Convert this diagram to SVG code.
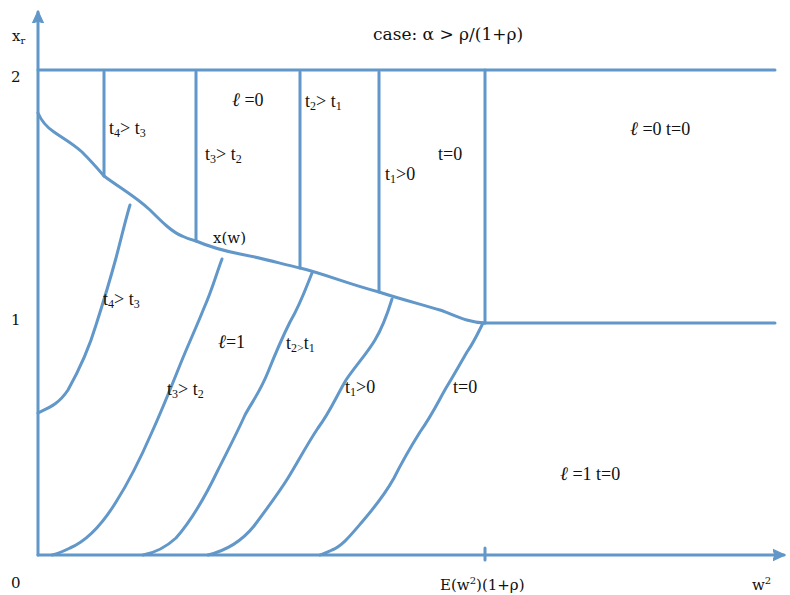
<svg xmlns="http://www.w3.org/2000/svg" width="790" height="595" viewBox="0 0 790 595">
<style>
.ln{fill:none;stroke:#6197c9;stroke-width:3;stroke-linecap:round;stroke-linejoin:round}
.cv{fill:none;stroke:#6197c9;stroke-width:3;stroke-linecap:round;stroke-linejoin:round}
text{font-family:"Liberation Serif","DejaVu Serif",serif;font-size:18px;fill:#111}
.sub{font-size:12px}
.big{font-family:"DejaVu Serif",serif;font-size:15px}
.case{font-size:17px}
.bsub{font-size:10px}
.ell{font-style:italic;font-size:19px}
</style>
<defs>
<marker id="arr" viewBox="0 0 12 12" refX="10" refY="6" markerWidth="4.5" markerHeight="4.5" orient="auto" markerUnits="strokeWidth">
<path d="M0,1 L11,6 L0,11 L2,6 Z" fill="#6197c9" stroke="#6197c9" stroke-width="1" stroke-linejoin="round"/>
</marker>
</defs>
<g id="axes">
<line class="ln" x1="38" y1="555" x2="38" y2="12" marker-end="url(#arr)"/>
<line class="ln" x1="38" y1="555" x2="784" y2="555" marker-end="url(#arr)"/>
<line class="ln" x1="485" y1="548" x2="485" y2="560"/>
</g>
<g id="region-lines">
<line class="ln" x1="38" y1="70" x2="775" y2="70"/>
<line class="ln" x1="485" y1="323" x2="775" y2="323"/>
<line class="ln" x1="104" y1="72" x2="104" y2="176"/>
<line class="ln" x1="196" y1="72" x2="196" y2="241"/>
<line class="ln" x1="300" y1="72" x2="300" y2="268"/>
<line class="ln" x1="379" y1="72" x2="379" y2="292"/>
<line class="ln" x1="485" y1="70" x2="485" y2="323"/>
</g>
<g id="boundary-xw">
<path class="cv" d="M38,113 C41,120 45,126 54,132 C64,139 72,143 82,152 C92,162 98,169 104,176 C120,188 135,196 150,210 C162,222 172,232 182,236 C188,239 192,240 196,241 C210,247 220,250 240,254 C262,258 282,264 300,268 C325,274 345,283 379,292 C400,299 420,304 440,310 C455,315 465,322 485,323"/>
</g>
<g id="curves">
<path id="curve-a" class="cv" d="M130,205 C126,218 122,235 116,258 C110,280 104,300 96,325 C88,352 78,372 68,390 C58,405 48,408 38,413"/>
<path id="curve-b" class="cv" d="M222,259 C216,275 212,290 204,308 C196,328 188,345 180,365 C170,390 162,410 152,432 C142,455 130,480 116,502 C100,528 84,542 70,548 C62,552 56,554 52,555"/>
<path id="curve-c" class="cv" d="M312,273 C306,288 300,305 290,322 C282,338 276,352 268,372 C260,392 252,402 245,415 C236,435 228,450 218,470 C206,495 192,520 176,538 C164,549 154,553 143,555"/>
<path id="curve-d" class="cv" d="M392,299 C388,312 384,325 375,340 C366,355 356,365 346,380 C336,397 330,412 318,428 C306,446 298,462 288,478 C278,494 266,510 254,526 C242,541 228,550 208,555"/>
<path id="curve-e" class="cv" d="M483,323 C478,333 474,342 467,352 C460,364 454,375 446,388 C438,402 432,415 420,432 C410,448 402,462 394,478 C384,496 374,508 362,522 C350,536 342,546 332,550 C326,553 322,554 320,555"/>
</g>
<g id="labels">
<text x="12" y="41" class="big">x<tspan class="bsub" dy="3">r</tspan></text>
<text x="11" y="82" class="big">2</text>
<text x="11" y="325" class="big">1</text>
<text x="11" y="588" class="big">0</text>
<text x="373" y="40" class="big case">case: α &gt; ρ/(1+ρ)</text>
<text x="109" y="134">t<tspan class="sub" dy="3">4</tspan><tspan dy="-3">&gt; t</tspan><tspan class="sub" dy="3">3</tspan></text>
<text x="205" y="160">t<tspan class="sub" dy="3">3</tspan><tspan dy="-3">&gt; t</tspan><tspan class="sub" dy="3">2</tspan></text>
<text x="232" y="106"><tspan class="ell">ℓ</tspan> =0</text>
<text x="305" y="107">t<tspan class="sub" dy="3">2</tspan><tspan dy="-3">&gt; t</tspan><tspan class="sub" dy="3">1</tspan></text>
<text x="385" y="180">t<tspan class="sub" dy="3">1</tspan><tspan dy="-3">&gt;0</tspan></text>
<text x="438" y="160">t=0</text>
<text x="213" y="243" class="big">x(w)</text>
<text x="630" y="135"><tspan class="ell">ℓ</tspan> =0  t=0</text>
<text x="103" y="305">t<tspan class="sub" dy="3">4</tspan><tspan dy="-3">&gt; t</tspan><tspan class="sub" dy="3">3</tspan></text>
<text x="218" y="348"><tspan class="ell">ℓ</tspan>=1</text>
<text x="167" y="395">t<tspan class="sub" dy="3">3</tspan><tspan dy="-3">&gt; t</tspan><tspan class="sub" dy="3">2</tspan></text>
<text x="286" y="349">t<tspan class="sub" dy="3">2</tspan><tspan class="sub">&gt;</tspan><tspan dy="-3">t</tspan><tspan class="sub" dy="3">1</tspan></text>
<text x="345" y="393">t<tspan class="sub" dy="3">1</tspan><tspan dy="-3">&gt;0</tspan></text>
<text x="453" y="393">t=0</text>
<text x="560" y="480"><tspan class="ell">ℓ</tspan> =1 t=0</text>
<text x="440" y="590" class="big">E(w<tspan class="bsub" dy="-6">2</tspan><tspan dy="6">)(1+ρ)</tspan></text>
<text x="752" y="590" class="big">w<tspan class="bsub" dy="-6">2</tspan></text>
</g>
</svg>
